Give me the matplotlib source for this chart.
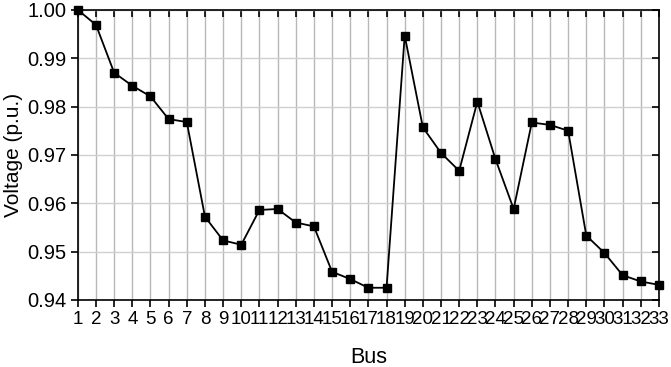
import matplotlib.pyplot as plt
import numpy as np

plt.rcParams["font.family"] = ["Liberation Sans", "DejaVu Sans"]

bus = np.arange(1, 34)
voltage = [
    1.0000, 0.9969, 0.9870, 0.9843, 0.9821, 0.9774, 0.9768, 0.9572,
    0.9523, 0.9514, 0.9586, 0.9588, 0.9560, 0.9552, 0.9458, 0.9443,
    0.9425, 0.9425, 0.9947, 0.9757, 0.9704, 0.9667, 0.9810, 0.9691,
    0.9588, 0.9767, 0.9762, 0.9750, 0.9533, 0.9497, 0.9451, 0.9438,
    0.9431,
]
yticks = [0.94, 0.95, 0.96, 0.97, 0.98, 0.99, 1.00]

fig = plt.figure(figsize=(6.71, 3.67), dpi=100)
ax = fig.add_axes([0.116, 0.183, 0.866, 0.790])

ax.plot(bus, voltage, color="black", linewidth=1.3, marker="s",
        markersize=6, clip_on=False, zorder=5)

ax.set_xlim(1, 33)
ax.set_ylim(0.94, 1.00)
ax.set_xticks(bus)
ax.set_xticklabels([str(b) for b in bus])
ax.set_yticks(yticks)
ax.set_yticklabels([f"{v:.2f}" for v in yticks])

ax.xaxis.grid(True, color="#b8b8b8", linewidth=1.0)
ax.yaxis.grid(True, color="#d0d0d0", linewidth=1.0)
ax.set_axisbelow(True)

ax.tick_params(axis="both", which="major", length=5,
               width=1.2, direction="out", color="black", pad=3)
ax.tick_params(axis="x", labelsize=13.5)
ax.tick_params(axis="y", labelsize=14.5)
ax.tick_params(top=True, right=True, labeltop=False, labelright=False)
# ticks on top/right point inward
for t in ax.xaxis.get_major_ticks():
    t.tick2line.set_marker(3)
for t in ax.yaxis.get_major_ticks():
    t.tick2line.set_marker(0)

for s in ax.spines.values():
    s.set_linewidth(1.2)

ax.set_xlabel("Bus", fontsize=15.5, labelpad=14)
ax.set_ylabel("Voltage (p.u.)", fontsize=15, labelpad=3)

fig.savefig("out.png", dpi=100)
